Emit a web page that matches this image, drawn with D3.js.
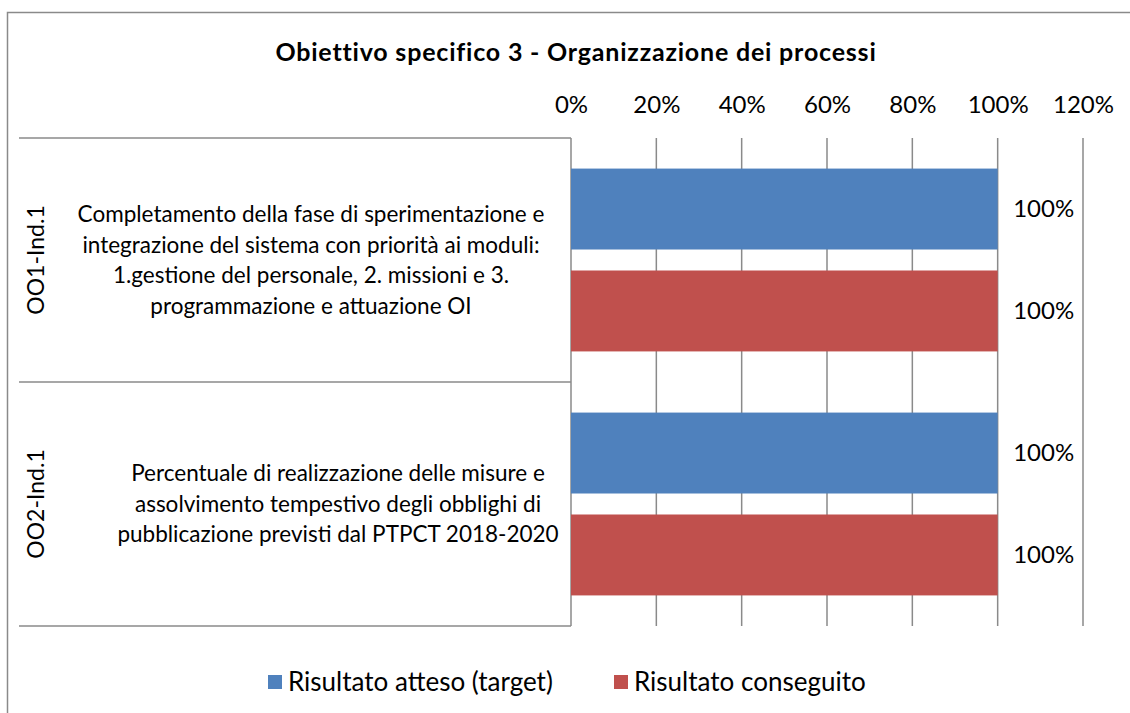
<!DOCTYPE html>
<html><head><meta charset="utf-8">
<script src="https://cdn.jsdelivr.net/npm/d3@7"></script>
<style>body{margin:0;background:#fff}svg{display:block}text{font-family:Lato,"Open Sans",sans-serif;fill:#000}</style>
</head><body><svg id="c" width="1130" height="713"></svg>
<script>
const title = "Obiettivo specifico 3 - Organizzazione dei processi";
const groups = ["OO1-Ind.1", "OO2-Ind.1"];
const groupTexts = [
  ["Completamento della fase di sperimentazione e", "integrazione del sistema con priorità ai moduli:", "1.gestione del personale, 2. missioni e 3.", "programmazione e attuazione OI"],
  ["Percentuale di realizzazione delle misure e", "assolvimento tempestivo degli obblighi di", "pubblicazione previsti dal PTPCT 2018-2020"]
];
const seriesNames = ["Risultato atteso (target)", "Risultato conseguito"];
const seriesColors = ["#4f81bd", "#c0504d"];
const targetValues = [1.0, 1.0];
const achievedValues = [1.0, 1.0];
const tickValues = [0, 0.2, 0.4, 0.6, 0.8, 1.0, 1.2];

const svg = d3.select("#c");
const L = 571, R = 1083, T = 138, B = 626;
const textCenters = [311, 338];
const x = d3.scaleLinear().domain([0, 1.2]).range([L, R]);
const y0 = d3.scaleBand().domain(groups).range([T, B]).paddingInner(0).paddingOuter(0);
const y1 = d3.scaleBand().domain(seriesNames).range([0, y0.bandwidth()]).paddingInner(0.206).paddingOuter(0.3);
const grey = "#8a8a8a";

// outer border
svg.append("rect").attr("x", 7.5).attr("y", 12.5).attr("width", 1200).attr("height", 800)
  .attr("fill", "none").attr("stroke", grey).attr("stroke-width", 1.5);

// title
svg.append("text").attr("x", 576).attr("y", 61).attr("text-anchor", "middle")
  .style("font-size", "25px").style("font-weight", "bold").style("letter-spacing", "0.8px").text(title);

// gridlines
svg.append("g").selectAll("line").data(tickValues.slice(1)).join("line")
  .attr("x1", d => x(d)).attr("x2", d => x(d)).attr("y1", T).attr("y2", B)
  .attr("stroke", grey).attr("stroke-width", 1.5);

// top axis labels
const ax = svg.append("g").attr("transform", `translate(0,${T})`)
  .call(d3.axisTop(x).tickValues(tickValues).tickFormat(d3.format(".0%")).tickSize(0).tickPadding(25));
ax.select(".domain").remove();
ax.selectAll("text").style("font-size", "24px").style("font-family", "Lato,'Open Sans',sans-serif").attr("fill", "#000");

// category axis lines
svg.append("g").selectAll("line").data([T, y0(groups[1]), B]).join("line")
  .attr("x1", 19).attr("x2", L).attr("y1", d => d).attr("y2", d => d)
  .attr("stroke", grey).attr("stroke-width", 1.5);
svg.append("line").attr("x1", L).attr("x2", L).attr("y1", T).attr("y2", B)
  .attr("stroke", grey).attr("stroke-width", 1.5);

// bars
const rows = [];
groups.forEach((g, i) => {
  rows.push({g, s: seriesNames[0], v: targetValues[i], c: seriesColors[0]});
  rows.push({g, s: seriesNames[1], v: achievedValues[i], c: seriesColors[1]});
});
svg.append("g").selectAll("rect").data(rows).join("rect")
  .attr("x", x(0)).attr("y", d => y0(d.g) + y1(d.s))
  .attr("width", d => x(d.v) - x(0)).attr("height", y1.bandwidth())
  .attr("fill", d => d.c);

// data labels
svg.append("g").selectAll("text").data(rows).join("text")
  .attr("x", d => x(d.v) + 46).attr("y", d => y0(d.g) + y1(d.s) + y1.bandwidth() / 2)
  .attr("dy", "0.35em").attr("text-anchor", "middle").style("font-size", "24px")
  .text(d => d3.format(".0%")(d.v));

// group labels (rotated) and descriptions
groups.forEach((g, i) => {
  const cy = y0(g) + y0.bandwidth() / 2;
  svg.append("text").attr("transform", `translate(44,${cy}) rotate(-90)`)
    .attr("text-anchor", "middle").style("font-size", "23px").text(g);
  const lines = groupTexts[i];
  const lh = 30.5;
  const startY = cy - (lines.length - 1) * lh / 2;
  svg.append("text").attr("text-anchor", "middle").style("font-size", "22.5px")
    .selectAll("tspan").data(lines).join("tspan")
    .attr("x", textCenters[i]).attr("y", (d, j) => startY + j * lh).attr("dy", "0.35em").text(d => d);
});

// legend
const leg = svg.append("g");
const legX = [268, 614];
seriesNames.forEach((s, i) => {
  leg.append("rect").attr("x", legX[i]).attr("y", 675).attr("width", 14).attr("height", 14).attr("fill", seriesColors[i]);
  leg.append("text").attr("x", legX[i] + 20).attr("y", 682).attr("dy", "0.35em")
    .style("font-size", "26px").text(s);
});
</script></body></html>
